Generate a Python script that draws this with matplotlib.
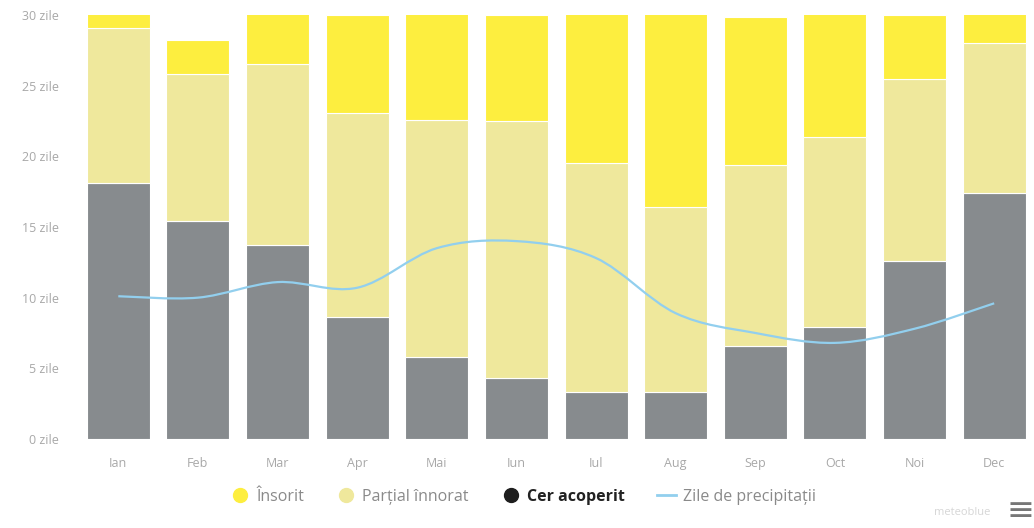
import numpy as np
import matplotlib
matplotlib.use('agg')
import matplotlib.pyplot as plt
from matplotlib.path import Path
from matplotlib.patches import PathPatch
from matplotlib.lines import Line2D

plt.rcParams['font.family'] = ['Open Sans', 'DejaVu Sans']

# date (zile pe luna)
luni = ['Ian', 'Feb', 'Mar', 'Apr', 'Mai', 'Iun', 'Iul', 'Aug', 'Sep', 'Oct', 'Noi', 'Dec']
cer_acoperit = [18.1, 15.4, 13.7, 8.6, 5.8, 4.3, 3.3, 3.3, 6.6, 7.9, 12.6, 17.4]
partial_innorat = [11.0, 10.4, 12.8, 14.5, 16.8, 18.2, 16.2, 13.1, 12.8, 13.5, 12.9, 10.6]
insorit = [1.9, 2.45, 4.5, 6.9, 8.4, 7.5, 11.5, 14.6, 10.45, 9.6, 4.5, 3.0]
precipitatii = [10.1, 10.0, 11.1, 10.7, 13.5, 14.0, 12.8, 8.9, 7.5, 6.8, 7.8, 9.6]
yticks = [0, 5, 10, 15, 20, 25, 30]

c_sun = '#fdee3f'
c_part = '#efe89c'
c_over = '#878b8e'
c_rain = '#92cfee'
c_text = '#a8a8a8'

fig = plt.figure(figsize=(10.34, 5.28), dpi=100)
ax = fig.add_axes([0.0759, 0.1686, 0.9241, 0.803])

x = np.arange(len(luni))
w = 0.79
ov = np.array(cer_acoperit)
pa = np.array(partial_innorat)
su = np.array(insorit)
ax.bar(x, ov, w, color=c_over, edgecolor='white', linewidth=0.8, zorder=2)
ax.bar(x, pa, w, bottom=ov, color=c_part, edgecolor='white', linewidth=0.8, zorder=2)
ax.bar(x, su, w, bottom=ov + pa, color=c_sun, edgecolor='white', linewidth=0.8, zorder=2)

# linie netezita (spline) prin punctele lunare
p = np.column_stack([x, precipitatii]).astype(float)
verts = [p[0]]
codes = [Path.MOVETO]
n = len(p)
for i in range(n - 1):
    p0 = p[max(i - 1, 0)]
    p1 = p[i]
    p2 = p[i + 1]
    p3 = p[min(i + 2, n - 1)]
    verts += [p1 + (p2 - p0) / 6.0, p2 - (p3 - p1) / 6.0, p2]
    codes += [Path.CURVE4] * 3
ax.add_patch(PathPatch(Path(verts, codes), facecolor='none', edgecolor=c_rain,
                       linewidth=1.6, zorder=3))

ax.set_xlim(-0.5, 11.5)
ax.set_ylim(0, 30)
ax.set_yticks(yticks)
ax.set_yticklabels([f'{t} zile' for t in yticks])
ax.set_xticks(x)
ax.set_xticklabels(luni)
ax.tick_params(axis='both', length=0, labelsize=9, colors=c_text)
ax.tick_params(axis='y', pad=14)
ax.tick_params(axis='x', pad=13)
for s in ax.spines.values():
    s.set_visible(False)

handles = [
    Line2D([], [], marker='o', linestyle='none', markersize=10, color=c_sun),
    Line2D([], [], marker='o', linestyle='none', markersize=10, color=c_part),
    Line2D([], [], marker='o', linestyle='none', markersize=10, color='#1e1e1e'),
    Line2D([], [], color=c_rain, linewidth=2),
]
labels = ['Însorit', 'Parțial înnorat', 'Cer acoperit', 'Zile de precipitații']
leg = fig.legend(handles, labels, loc='center', bbox_to_anchor=(0.506, 0.059), ncol=4,
                 frameon=False, fontsize=11.5, handlelength=1.2, handletextpad=0.45,
                 columnspacing=2.0)
for t in leg.get_texts():
    t.set_color('#8a8a8a')
leg.get_texts()[2].set_color('#222222')
leg.get_texts()[2].set_fontweight('bold')

fig.text(0.958, 0.018, 'meteoblue', ha='right', va='bottom', fontsize=8, color='#d6d6d6')
fig.text(1.0, 0.0, '≡', ha='right', va='bottom', fontsize=24, color='#777777')

fig.savefig('out.png', dpi=100)
